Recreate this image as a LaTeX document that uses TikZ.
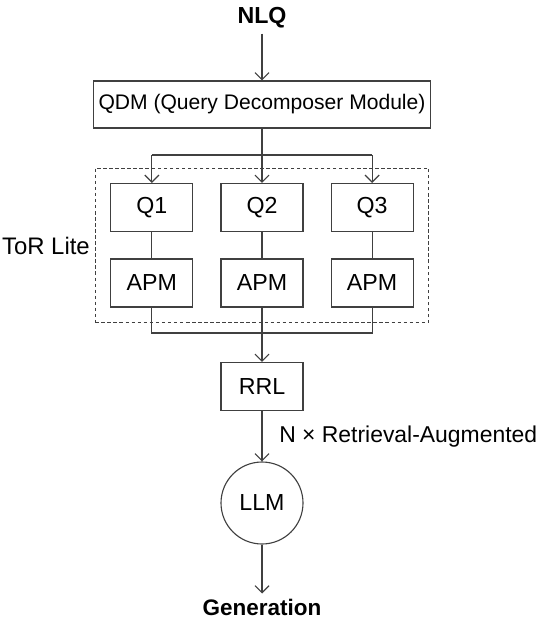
\documentclass[tikz,border=0pt]{standalone}
\usepackage{fontspec}
\setmainfont{Liberation Sans}
\usepackage{tikz}
\usetikzlibrary{arrows.meta, positioning, fit, calc, backgrounds}

\begin{document}
\begin{tikzpicture}[thick, line width=0.8pt, draw=black!75,
    >={Straight Barb[length=5pt,width=10pt]},
    every node/.style={font=\fontsize{16.5}{19}\selectfont},
    box/.style={draw=black!75, rectangle, minimum width=2.05cm, minimum height=1.2cm, align=center},
    title/.style={font=\fontsize{16}{19}\selectfont\bfseries}]

    \useasboundingbox (0,0) rectangle (13.75,-15.5);

    % Input and decomposer
    \node (nlq) [title, font=\fontsize{16.5}{19}\selectfont\bfseries] at (6.55,-0.45) {NLQ};
    \node (qdm) [box, minimum width=8.25cm, minimum height=1.175cm, font=\fontsize{15}{18}\selectfont] at (6.55,-2.6125) {QDM (Query Decomposer Module)};

    % Sub-queries and their modules
    \node (q2) [box] at (6.55,-5.1875) {Q2};
    \node (q1) [box, left=0.675cm of q2] {Q1};
    \node (q3) [box, right=0.675cm of q2] {Q3};
    \node (apm2) [box] at (6.55,-7.075) {APM};
    \node (apm1) [box, left=0.675cm of apm2] {APM};
    \node (apm3) [box, right=0.675cm of apm2] {APM};

    % ToR Lite boundary
    \begin{scope}[on background layer]
        \node (torlite) [draw=black!75, dash pattern=on 2.5pt off 1.8pt, fit=(q1) (q3) (apm1) (apm3), inner sep=0.375cm] {};
    \end{scope}
    \node (torlabel) [anchor=east, font=\fontsize{17}{20}\selectfont] at (torlite.west |- 0,-6.15) {ToR Lite};

    % Re-ranking and generation
    \node (rrl) [box] at (6.55,-9.6625) {RRL};
    \node (llm) [draw=black!75, circle, minimum size=2.05cm, inner sep=0pt] at (6.55,-12.575) {LLM};
    \node (gen) [title] at (6.55,-15.175) {Generation};

    \coordinate (split) at (6.55,-3.875);
    \coordinate (merge) at (6.55,-8.325);

    % Data Flow
    \draw[->] (nlq) -- (qdm);
    \draw[->] (qdm.south) -- (q2.north);
    \draw (split -| q1) -- (split -| q3);
    \draw[->] (split -| q1) -- (q1.north);
    \draw[->] (split -| q3) -- (q3.north);
    \draw (q1) -- (apm1);
    \draw (q2) -- (apm2);
    \draw (q3) -- (apm3);
    \draw (apm1.south) -- (merge -| apm1) -- (merge -| apm3) -- (apm3.south);
    \draw[->] (apm2.south) -- (rrl.north);
    \draw[->] (rrl) -- node[midway, right=3mm, font=\fontsize{16.3}{19}\selectfont] {N × Retrieval-Augmented} (llm);
    \draw[->] (llm.south) -- (gen.north);
\end{tikzpicture}
\end{document}
